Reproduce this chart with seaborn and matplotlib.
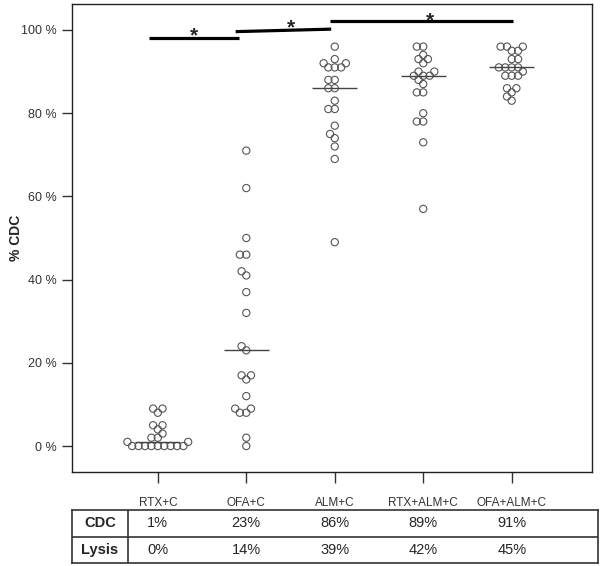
import numpy as np
import pandas as pd
import matplotlib
matplotlib.use("Agg")
import matplotlib.pyplot as plt
import matplotlib.transforms as mtransforms
import seaborn as sns

# dane (% CDC dla kazdej probki)
groups = ["RTX+C", "OFA+C", "ALM+C", "RTX+ALM+C", "OFA+ALM+C"]
rtx_c = [9, 9, 8, 5, 5, 4, 3, 2, 2, 1, 1, 0, 0, 0, 0, 0, 0, 0, 0, 0]
ofa_c = [71, 62, 50, 46, 46, 42, 41, 37, 32, 24, 23, 17, 17, 16, 12, 9, 9, 8, 8, 2, 0]
alm_c = [96, 93, 92, 92, 91, 91, 91, 88, 88, 86, 86, 83, 81, 81, 77, 75, 74, 72, 69, 49]
rtx_alm_c = [96, 96, 94, 93, 93, 92, 90, 90, 89, 89, 89, 88, 87, 85, 85, 80, 78, 78, 73, 57]
ofa_alm_c = [96, 96, 96, 95, 95, 93, 93, 91, 91, 91, 91, 90, 89, 89, 89, 86, 86, 85, 84, 83]

yticks = [0, 20, 40, 60, 80, 100]
cdc_row = ["1%", "23%", "86%", "89%", "91%"]
lysis_row = ["0%", "14%", "39%", "42%", "45%"]

# linie istotnosci: (x0, x1, y0, y1) i gwiazdki (x, y)
sig_bars = [(-0.10, 0.92, 98.0, 98.0), (0.88, 1.96, 99.6, 100.2), (1.95, 4.02, 102.1, 102.1)]
stars = [(0.41, 96.2), (1.51, 98.3), (3.08, 100.0)]

values = [rtx_c, ofa_c, alm_c, rtx_alm_c, ofa_alm_c]
df = pd.DataFrame({
    "group": np.repeat(groups, [len(v) for v in values]),
    "cdc": np.concatenate(values),
})

sns.set_style("white")
plt.rcParams["font.family"] = ["Liberation Sans", "DejaVu Sans"]

fig = plt.figure(figsize=(6.0, 5.66), dpi=100)
ax = fig.add_axes([0.12, 0.166, 0.867, 0.827])

# uklad roju liczony dla mniejszych punktow, potem powiekszone -> nakladajace sie kolka jak w beeswarm
sns.swarmplot(data=df, x="group", y="cdc", order=groups, size=3.6,
              color="#555555", linewidth=0.8, ax=ax)
ax.set_xlim(-0.97, 4.91)
ax.set_ylim(-6.25, 106.25)
fig.canvas.draw()
for coll in list(ax.collections):
    if "draw" in coll.__dict__:
        del coll.draw  # zamrozenie pozycji roju
    coll.set_facecolor("none")
    coll.set_edgecolor("#555555")
    coll.set_linewidth(0.8)
    coll.set_sizes([5.2 ** 2])

# mediany
for i, v in enumerate(values):
    ax.hlines(np.median(v), i - 0.255, i + 0.255, color="#444444", lw=1.0, zorder=3)

for x0, x1, y0, y1 in sig_bars:
    ax.plot([x0, x1], [y0, y1], color="black", lw=2.3, solid_capstyle="butt", clip_on=False)
for x, y in stars:
    ax.text(x, y, "*", ha="center", va="bottom", fontsize=15, fontweight="bold")

ax.set_xlim(-0.97, 4.91)
ax.set_ylim(-6.25, 106.25)
ax.set_yticks(yticks)
ax.set_yticklabels([f"{t} %" for t in yticks], color="#333333", fontsize=9)
ax.set_xticks(range(len(groups)))
ax.set_xticklabels(groups, color="#333333", fontsize=8.5)
ax.tick_params(axis="y", direction="out", length=7, width=1, color="#333333", pad=4, left=True)
ax.tick_params(axis="x", direction="out", length=8, width=1, color="#333333", pad=10, bottom=True)
ax.set_xlabel("")
ax.set_ylabel("% CDC", fontsize=10, fontweight="bold")
ax.yaxis.set_label_coords(-0.095, 0.5)
for s in ax.spines.values():
    s.set_visible(True)
    s.set_color("#222222")
    s.set_linewidth(1.0)

# tabela pod wykresem
tab = fig.add_axes([0.12, 0.005, 0.877, 0.094])
tab.set_xticks([])
tab.set_yticks([])
for s in tab.spines.values():
    s.set_visible(True)
    s.set_color("#333333")
    s.set_linewidth(1.2)
tab.axhline(0.5, color="#333333", lw=1.2)
sep = (128 - 72) / 526.0
tab.axvline(sep, color="#333333", lw=1.2)
tab.text(sep / 2, 0.75, "CDC", ha="center", va="center", fontsize=10.5, fontweight="bold", transform=tab.transAxes)
tab.text(sep / 2, 0.25, "Lysis", ha="center", va="center", fontsize=10.5, fontweight="bold", transform=tab.transAxes)
trans = mtransforms.blended_transform_factory(ax.transData, tab.transAxes)
for i in range(len(groups)):
    tab.text(i, 0.75, cdc_row[i], ha="center", va="center", fontsize=10.5, transform=trans)
    tab.text(i, 0.25, lysis_row[i], ha="center", va="center", fontsize=10.5, transform=trans)

fig.savefig("out.png", dpi=100)
